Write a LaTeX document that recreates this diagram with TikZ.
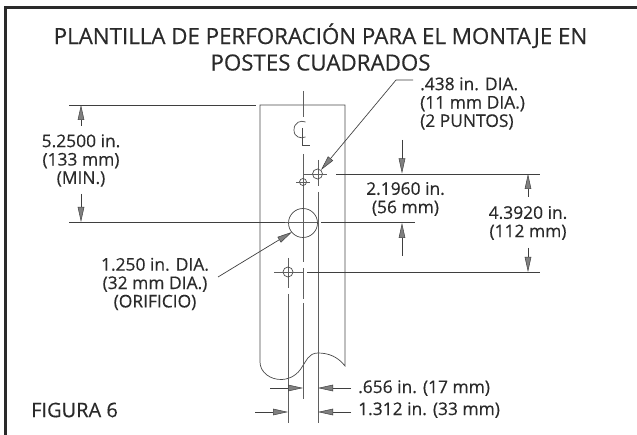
\documentclass[tikz,border=0pt]{standalone}
\usepackage{fontspec}
\setmainfont[FakeBold=0.35]{Open Sans}
\usetikzlibrary{arrows.meta}
\definecolor{ink}{HTML}{2A2A2A}
\definecolor{tipgrey}{HTML}{808080}
\tikzset{
  x=1pt,y=-1pt,
  frameline/.style={draw=ink,line width=2.2pt},
  part/.style={draw=ink!85,line width=0.7pt},
  centre/.style={draw=ink!75,line width=0.75pt},
  dimline/.style={draw=ink!90,line width=0.7pt},
  dimarrow/.style={dimline,-{Triangle[length=15pt,width=6.5pt,fill=tipgrey,line width=0.5pt]}},
  titletext/.style={text=ink,font=\fontsize{22.3}{26.5}\selectfont,align=center,inner sep=0pt},
  dimtext/.style={text=ink,font=\fontsize{17.4}{18.4}\selectfont,align=center,inner sep=0pt},
  leftdimtext/.style={dimtext,align=left},
  figtext/.style={text=ink,font=\fontsize{20}{22}\selectfont,inner sep=0pt},
}
\begin{document}
\begin{tikzpicture}
\useasboundingbox (0,0) rectangle (637,435);
\fill[white] (0,0) rectangle (637,435);
% frame
\draw[frameline] (637,7.5) -- (5.5,7.5) -- (5.5,435);
% texts
\node[titletext] (title) at (320.5,47) {PLANTILLA DE PERFORACIÓN PARA EL MONTAJE EN\\POSTES CUADRADOS};
\node[dimtext] (minlab) at (81,160.5) {5.2500 in.\\(133 mm)\\(MIN.)};
\node[dimtext] (bigdia) at (155,284) {1.250 in. DIA.\\(32 mm DIA.)\\(ORIFICIO)};
\node[leftdimtext,anchor=west] (smalldia) at (420,103.5) {.438 in. DIA.\\(11 mm DIA.)\\(2 PUNTOS)};
\node[dimtext] (halfv) at (405.5,199) {2.1960 in.\\(56 mm)};
\node[dimtext] (fullv) at (528,223) {4.3920 in.\\(112 mm)};
\node[dimtext,anchor=west] (halfh) at (358,388) {.656 in. (17 mm)};
\node[dimtext,anchor=west] (fullh) at (358,410) {1.312 in. (33 mm)};
\node[figtext,anchor=west] (fig) at (31,410) {FIGURA 6};
% post outline
\draw[part] (260,105) -- (345,105) -- (345,366)
  .. controls (338,357) and (329,353) .. (318,353)
  .. controls (308,353) and (306,362) .. (302,367)
  .. controls (298,374) and (291,379) .. (282,379.5)
  .. controls (270,380) and (260,372) .. (260,362) -- cycle;
% centre lines
\draw[centre] (303,91) -- (303,117);
\draw[centre] (303,154) -- (303,262);
\draw[centre] (303,268) -- (303,299);
\draw[centre] (303,303) -- (303,399);
\draw[centre] (288,258) -- (288,288);
\draw[centre] (288,294) -- (288,423);
\draw[centre] (318,160) -- (318,186);
\draw[centre] (318,192) -- (318,423);
% centre-line symbol
\draw[part] (305.5,122) .. controls (301,120) and (294,122) .. (294,130) .. controls (294,137) and (300,139) .. (305.5,137);
\draw[part] (302,128) -- (302,145) -- (310,145);
% holes
\draw[part] (303,223) circle (14.5);
\draw[part] (317.5,174) circle (5);
\draw[part] (303,182) circle (3.5);
\draw[part] (288,272) circle (5);
% horizontal reference lines
\draw[dimline] (69,105) -- (256,105);
\draw[dimline] (69,222.5) -- (285,222.5);
\draw[centre] (285,222.5) -- (317,222.5);
\draw[dimline] (321,222.5) -- (415,222.5);
\draw[centre] (303,174) -- (327,174);
\draw[dimline] (336,174) -- (540,174);
\draw[centre] (296,182) -- (310,182);
\draw[centre] (274,272) -- (303,272);
\draw[dimline] (307,272) -- (540,272);
% named dimension ends
\coordinate (a1) at (81,126); \coordinate (a2) at (81,105);
\coordinate (b1) at (81,194); \coordinate (b2) at (81,222);
\coordinate (c1) at (402,140); \coordinate (c2) at (402,173.5);
\coordinate (d1) at (402,256); \coordinate (d2) at (402,223);
\coordinate (e1) at (528,197); \coordinate (e2) at (528,174);
\coordinate (f1) at (528,248); \coordinate (f2) at (528,272);
\coordinate (g1) at (270,388); \coordinate (g2) at (303,388);
\coordinate (h1) at (351,388); \coordinate (h2) at (318,388);
\coordinate (i1) at (255,412); \coordinate (i2) at (288,412);
\coordinate (j1) at (351,412); \coordinate (j2) at (318,412);
\foreach \s/\t in {a1/a2,b1/b2,c1/c2,d1/d2,e1/e2,f1/f2,g1/g2,h1/h2,i1/i2,j1/j2}
  \draw[dimarrow] (\s) -- (\t);
% leaders
\coordinate (l0) at (413,80); \coordinate (l1) at (396,80); \coordinate (l2) at (321,170);
\draw[dimarrow] (l0) -- (l1) -- (l2);
\coordinate (m0) at (218,277); \coordinate (m1) at (292,232);
\draw[dimarrow] (m0) -- (m1);
\end{tikzpicture}
\end{document}
